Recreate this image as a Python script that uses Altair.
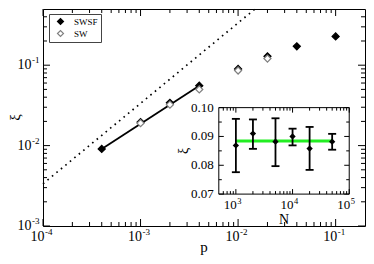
import altair as alt
import pandas as pd

# ---------------- data ----------------
series = ["SWSF", "SW"]
p_swsf = [4e-4, 1e-3, 2e-3, 4e-3, 1e-2, 2e-2, 4e-2, 1e-1]
xi_swsf = [0.0091, 0.0196, 0.0341, 0.0557, 0.0897, 0.129, 0.172, 0.228]
p_sw = [1e-3, 2e-3, 4e-3, 1e-2, 2e-2]
xi_sw = [0.0190, 0.0323, 0.0499, 0.0859, 0.121]
fit_p = [4e-4, 4e-3]
fit_xi = [0.0091, 0.0557]
ref_p = [1e-4, 0.0149]
ref_xi = [0.00335, 0.5]

N_vals = [1000, 2000, 5000, 10000, 20000, 50000]
xi_N = [0.0869, 0.0910, 0.0882, 0.0900, 0.0858, 0.0882]
err_lo = [0.0776, 0.0857, 0.0797, 0.0869, 0.0784, 0.0854]
err_hi = [0.0961, 0.0959, 0.0963, 0.0927, 0.0933, 0.0909]
mean_N = [1000, 50000]
mean_xi = [0.0884, 0.0884]

# tick values / labels
x_major = [1e-4, 1e-3, 1e-2, 1e-1]
x_exp = ["-4", "-3", "-2", "-1"]
x_minor = [m * 10.0 ** k for k in (-4, -3, -2) for m in range(2, 10)]
y_major = [1e-3, 1e-2, 1e-1]
y_exp = ["-3", "-2", "-1"]
y_minor = [m * 10.0 ** k for k in (-3, -2) for m in range(2, 10)] + [0.2, 0.3, 0.4]

in_x_major = [1e3, 1e4, 1e5]
in_x_exp = ["3", "4", "5"]
in_x_minor = [600, 700, 800, 900] + [m * 1e3 for m in range(2, 10)] + [m * 1e4 for m in range(2, 10)]
in_y_major = [0.07, 0.08, 0.09, 0.10]
in_y_labels = ["0.07", "0.08", "0.09", "0.10"]
in_y_minor = [0.075, 0.085, 0.095]

# ---------------- layout ----------------
FONT = "Liberation Serif"
W, H = 322, 217
IX0, IX1 = 0.546 * W, 0.951 * W
IY0, IY1 = 0.4545 * H, 0.853 * H

XS = alt.Scale(type="log", domain=[1e-4, 0.2], nice=False)
YS = alt.Scale(type="log", domain=[1e-3, 0.5], nice=False)
XI = alt.Scale(type="log", domain=[500, 1e5], range=[IX0, IX1], nice=False)
YI = alt.Scale(type="linear", domain=[0.07, 0.10], range=[IY1, IY0], zero=False, nice=False)


def qx(field, scale):
    return alt.X(f"{field}:Q", scale=scale, axis=None)


def qy(field, scale):
    return alt.Y(f"{field}:Q", scale=scale, axis=None)


def xticks(values, scale, y_edge, length):
    return alt.Chart(pd.DataFrame({"v": values})).mark_rule(color="black", strokeWidth=1).encode(
        x=qx("v", scale), y=alt.value(y_edge), y2=alt.value(y_edge + length))


def yticks(values, scale, x_edge, length):
    return alt.Chart(pd.DataFrame({"v": values})).mark_rule(color="black", strokeWidth=1).encode(
        y=qy("v", scale), x=alt.value(x_edge), x2=alt.value(x_edge + length))


def title_text(txt, x, y, size, angle=0, baseline="alphabetic"):
    return alt.Chart(pd.DataFrame({"t": [txt]})).mark_text(
        font=FONT, fontSize=size, angle=angle, align="center", baseline=baseline, color="black"
    ).encode(x=alt.value(x), y=alt.value(y), text="t:N")


# ---------------- main plot ----------------
ref_line = alt.Chart(pd.DataFrame({"p": ref_p, "xi": ref_xi})).mark_line(
    color="black", strokeWidth=1.7, strokeDash=[1.6, 4.2]
).encode(x=qx("p", XS), y=qy("xi", YS))

fit_line = alt.Chart(pd.DataFrame({"p": fit_p, "xi": fit_xi})).mark_line(
    color="black", strokeWidth=1.8
).encode(x=qx("p", XS), y=qy("xi", YS))

pts_df = pd.DataFrame({
    "p": p_swsf + p_sw,
    "xi": xi_swsf + xi_sw,
    "series": [series[0]] * len(p_swsf) + [series[1]] * len(p_sw),
})
LEG = alt.Legend(title=None, orient="none", legendX=6, legendY=5, symbolType="diamond",
                 symbolSize=36, symbolStrokeWidth=1.2, labelFont=FONT, labelFontSize=9,
                 labelColor="black", padding=3, strokeColor="#444", fillColor="white",
                 rowPadding=1, labelOffset=9, symbolOffset=4)
pts = alt.Chart(pts_df).mark_point(shape="diamond", filled=True, size=50, strokeWidth=1.2, opacity=1).encode(
    x=qx("p", XS), y=qy("xi", YS),
    color=alt.Color("series:N", scale=alt.Scale(domain=series, range=["black", "white"]), legend=LEG),
    stroke=alt.Stroke("series:N", scale=alt.Scale(domain=series, range=["black", "#808080"]), legend=LEG),
)

main_ticks = [
    xticks(x_major, XS, H, -7), xticks(x_minor, XS, H, -4),
    xticks(x_major, XS, 0, 7), xticks(x_minor, XS, 0, 4),
    yticks(y_major, YS, 0, 7), yticks(y_minor, YS, 0, 4),
    yticks(y_major, YS, W, -7), yticks(y_minor, YS, W, -4),
]

xl = pd.DataFrame({"v": x_major, "base": ["10"] * len(x_major), "exp": x_exp})
yl = pd.DataFrame({"v": y_major, "base": ["10"] * len(y_major), "exp": y_exp})
main_labels = [
    alt.Chart(xl).mark_text(align="right", baseline="middle", font=FONT, fontSize=14, dx=1.5, color="black")
    .encode(x=qx("v", XS), y=alt.value(H + 10.5), text="base:N"),
    alt.Chart(xl).mark_text(align="left", baseline="middle", font=FONT, fontSize=9, dx=2, color="black")
    .encode(x=qx("v", XS), y=alt.value(H + 6), text="exp:N"),
    alt.Chart(yl).mark_text(align="right", baseline="middle", font=FONT, fontSize=14, color="black")
    .encode(x=alt.value(-11.5), y=qy("v", YS), text="base:N"),
    alt.Chart(yl).mark_text(align="left", baseline="middle", font=FONT, fontSize=9, dy=-5, color="black")
    .encode(x=alt.value(-11), y=qy("v", YS), text="exp:N"),
    title_text("p", W / 2, H + 26, 15),
    title_text("ξ", -28, H / 2, 15, angle=270, baseline="middle"),
]

main = alt.layer(ref_line, fit_line, pts, *main_ticks, *main_labels)

# ---------------- inset ----------------
bg = alt.Chart(pd.DataFrame({"x0": [500], "x1": [1e5], "y0": [0.07], "y1": [0.10]})).mark_rect(
    fill="white", stroke="black", strokeWidth=1
).encode(x=qx("x0", XI), x2="x1:Q", y=qy("y0", YI), y2="y1:Q")

mean_line = alt.Chart(pd.DataFrame({"N": mean_N, "xi": mean_xi})).mark_line(
    color="#22ee22", strokeWidth=3
).encode(x=qx("N", XI), y=qy("xi", YI))

idf = pd.DataFrame({"N": N_vals, "xi": xi_N, "lo": err_lo, "hi": err_hi})
err = alt.Chart(idf).mark_rule(color="black", strokeWidth=1.8).encode(
    x=qx("N", XI), y=qy("lo", YI), y2="hi:Q")
cap_lo = alt.Chart(idf).mark_tick(color="black", orient="horizontal", size=8, thickness=1.8, opacity=1).encode(
    x=qx("N", XI), y=qy("lo", YI))
cap_hi = alt.Chart(idf).mark_tick(color="black", orient="horizontal", size=8, thickness=1.8, opacity=1).encode(
    x=qx("N", XI), y=qy("hi", YI))
ipts = alt.Chart(idf).mark_point(shape="diamond", filled=True, size=40, color="black", opacity=1).encode(
    x=qx("N", XI), y=qy("xi", YI))

in_ticks = [
    xticks(in_x_major, XI, IY1, -5), xticks(in_x_minor, XI, IY1, -3),
    xticks(in_x_major, XI, IY0, 5), xticks(in_x_minor, XI, IY0, 3),
    yticks(in_y_major, YI, IX0, 5), yticks(in_y_minor, YI, IX0, 3),
    yticks(in_y_major, YI, IX1, -5), yticks(in_y_minor, YI, IX1, -3),
]

ixl = pd.DataFrame({"v": in_x_major, "base": ["10"] * len(in_x_major), "exp": in_x_exp})
iyl = pd.DataFrame({"v": in_y_major, "t": in_y_labels})
in_labels = [
    alt.Chart(ixl).mark_text(align="right", baseline="middle", font=FONT, fontSize=13, dx=1, color="black")
    .encode(x=qx("v", XI), y=alt.value(IY1 + 11), text="base:N"),
    alt.Chart(ixl).mark_text(align="left", baseline="middle", font=FONT, fontSize=8.5, dx=1.5, color="black")
    .encode(x=qx("v", XI), y=alt.value(IY1 + 6.8), text="exp:N"),
    alt.Chart(iyl).mark_text(align="right", baseline="middle", font=FONT, fontSize=13, color="black")
    .encode(x=alt.value(IX0 - 5), y=qy("v", YI), text="t:N"),
    title_text("N", (IX0 + IX1) / 2, IY1 + 30, 14),
    title_text("ξ", IX0 - 35, (IY0 + IY1) / 2, 14, angle=270, baseline="middle"),
]

inset = alt.layer(bg, mean_line, err, cap_lo, cap_hi, ipts, *in_ticks, *in_labels)

chart = alt.layer(main, inset).resolve_scale(x="independent", y="independent").properties(
    width=W, height=H,
    autosize=alt.AutoSizeParams(type="none"),
    padding={"left": 35, "top": 1, "right": 1, "bottom": 30},
).configure_view(stroke="black", strokeWidth=1)

chart.save("out.html", embed_options={"renderer": "svg", "actions": False})
